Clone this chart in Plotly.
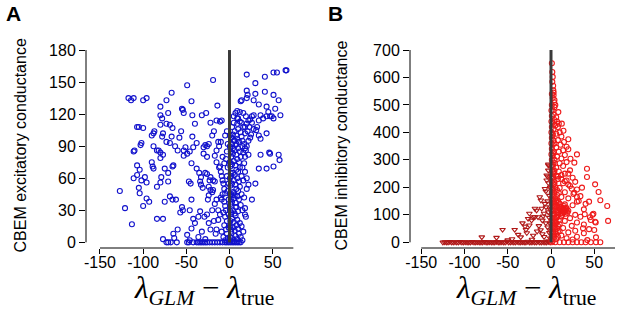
import plotly.graph_objects as go

W, H = 617, 311

# ---------------- data ----------------
X_TICKS = [-150, -100, -50, 0, 50]
X_TICKTEXT = ["-150", "-100", "-50", "0", "50"]
A_Y_TICKS = [0, 30, 60, 90, 120, 150, 180]
B_Y_TICKS = [0, 100, 200, 300, 400, 500, 600, 700]

# Panel A: excitatory conductance, points with negative difference
A_LEFT = [(-127,48),(-121,32),(-117,135),(-114,133),(-111,135),(-100,133),(-96,135),(-107,108),(-105,108),
 (-100,107),(-102,93),(-103,91),(-111,85),(-110,86),(-107,72),(-104,68),(-111,60),(-107,63),(-105,51),
 (-104,46),(-102,58),(-98,61),(-113,17),(-96,56),(-96,41),(-100,34),(-93,38),(-90,100),(-88,102),
 (-87,104),(-88,90),(-84,86),(-82,86),(-80,84),(-90,75),(-89,71),(-88,69),(-84,52),(-80,56),(-79,61),
 (-84,22),(-77,22),(-80,127),(-80,119),(-78,116),(-80,110),(-78,99),(-77,102),(-80,79),(-77,82),
 (-73,133),(-67,140),(-71,121),(-73,111),(-69,110),(-66,107),(-73,94),(-69,93),(-67,99),(-75,69),
 (-71,65),(-66,71),(-65,72),(-71,57),(-69,43),(-66,40),(-75,38),(-77,3),(-73,0),(-71,0),(-68,0),
 (-65,8),(-64,4),(-61,0),(-55,33),(-54,30),(-55,125),(-54,124),(-53,121),(-53,86),(-51,89),(-53,81),
 (-49,147),(-49,7),(-46,2),(-49,0),(-47,0),(-47,57),(-45,55),(-44,132),(-43,119),(-43,99),(-42,89),
 (-46,85),(-49,83),(-44,74),(-44,40),(-46,30),(-42,22),(-44,13),(-42,0),(-38,0),(-34,0),(-40,111),
 (-38,93),(-38,69),(-35,65),(-33,61),(-34,57),(-33,54),(-31,51),(-36,24),(-34,29),(-32,119),(-27,121),
 (-30,83),(-28,91),(-26,90),(-26,80),(-24,92),(-30,89),(-28,65),(-26,64),(-22,61),(-19,58),(-17,57),
 (-23,58),(-24,52),(-22,49),(-20,47),(-29,24),(-26,26),(-24,18),(-22,12),(-30,0),(-26,0),(-23,0),
 (-20,0),(-17,0),(-14,0),(-11,0),(-8,0),(-19,152),(-19,49),(-17,81),(-15,75),(-15,114),(-11,113),
 (-9,114),(-15,86),(-13,94),(-12,90),(-10,94),(-14,128),(-11,71),(-13,30),(-11,26),(-13,21),(-15,12),
 (-9,10),(-7,5),(-9,40),(-12,70),(-10,66),(-9,62),(-8,58),(-7,55),(-6,50),(-5,46),(-8,45),(-10,42),
 (-6,38),(-5,34),(-4,30),(-7,28),(-5,24),(-3,20),(-6,16),(-4,12),(-3,8),(-2,4),(-5,2),(-3,62),(-2,70),
 (-4,78),(-3,85),(-2,92),(-5,100),(-3,104),(-1,55),(-2,48),(-1,40),(-1,26),(-1,14),(-6,74),(-8,80),
 (-20,100),(-18,104),(-22,112),(-17,36),(-15,40),(-20,30),(-18,20),(-16,8),(-25,40),(-24,44),(-36,5),
 (-32,10),(-28,3),(-40,18),(-57,28),(-60,12),(-62,40),(-58,98),(-56,104),(-63,90),(-60,86),(-5,0),
 (-3,0),(-1,0),(-36,0),(-32,0),(-28,0)]

# Panel A: points with positive difference (sparse part)
A_RIGHT = [(66,161),(65,161),(51,159),(55,159),(41,155),(20,157),(30,149),(57,133),(51,138),(41,141),
 (30,139),(20,142),(21,138),(20,135),(13,132),(14,133),(28,133),(34,129),(43,127),(45,122),(53,125),
 (59,119),(49,118),(51,116),(47,118),(43,118),(39,116),(36,119),(34,114),(28,119),(26,118),(22,114),
 (20,111),(18,108),(32,108),(31,105),(34,100),(36,97),(43,102),(12,122),(9,123),(7,121),(9,116),
 (5,118),(36,82),(47,83),(46,84),(57,82),(58,77),(51,71),(43,69),(34,69),(30,55),(22,54),(20,60),
 (22,82),(18,80),(26,40),(18,32),(19,24),(5,46),(7,33)]

# Panel A: dense band just right of zero
A_DENSE = [(1,2),(3,4),(5,1),(7,6),(9,3),(11,8),(2,10),(4,14),(6,11),(8,16),(10,13),(12,18),(1,20),
 (3,22),(5,19),(7,25),(9,21),(2,28),(4,30),(6,27),(8,33),(10,29),(13,35),(1,36),(3,38),(5,41),(7,37),
 (9,43),(11,40),(2,45),(4,47),(6,44),(8,50),(10,48),(12,52),(1,53),(3,55),(5,58),(7,54),(9,60),(11,57),
 (14,62),(2,62),(4,65),(6,63),(8,68),(10,66),(12,70),(1,71),(3,73),(5,76),(7,72),(9,78),(11,75),
 (13,80),(2,80),(4,83),(6,86),(8,82),(10,88),(12,85),(15,90),(1,89),(3,92),(5,95),(7,91),(9,97),
 (11,94),(14,99),(2,98),(4,101),(6,104),(8,100),(10,106),(13,103),(16,108),(3,108),(5,112),(9,111),
 (12,113),(15,95),(17,92),(18,88),(16,84),(19,86),(20,90),(22,95),(24,98),(17,74),(15,70),(18,66),
 (16,58),(20,50),(14,45),(17,42),(15,30),(18,26),(14,15),(16,10),(13,5),(15,2),(0.5,5),(0.5,15),
 (0.5,30),(0.5,45),(0.5,60),(0.5,75),(0.5,90),(0.5,100),(1.5,12),(1.5,40),(1.5,65),(1.5,85),(6,95),
 (8,92),(4,88),(10,116),(14,112),(18,102),(21,104),(23,108),(25,101),(26,112),(28,106),(19,118),
 (16,121),(24,115),(1,0),(3,0),(5,0),(7,0),(9,0),(11,0),(13,0)]

# Panel B: inhibitory conductance, circles
B_CIRCLES = [(1,652),(1.5,620),(2,602),(1.5,584),(2.5,570),(2.7,553),(3,545),(3,535),(2,525),(4,518),
 (3.7,510),(5,500),(4,492),(2,480),(8.5,474),(3,465),(6,455),(4,445),(7,440),(9,432),(12.5,432),(5,425),
 (8,420),(3,412),(14.4,406),(10,400),(6,395),(2,390),(12,385),(20,375),(8,372),(15,365),(4,360),
 (11,355),(18,348),(6,345),(20,339),(14,335),(9,330),(2,325),(30,320),(16,318),(7,312),(12,305),
 (22.5,304),(4,300),(27,290),(18,292),(10,288),(2,282),(14,278),(6,272),(41.6,268),(22,262),(9,258),
 (3,255),(16,250),(20,250),(12,245),(6,242),(41.6,238),(25,235),(1,232),(8,230),(18,225),(28,220),
 (14,215),(4,212),(51,211),(22,205),(35.8,199),(10,198),(30,192),(2,190),(55,183),(16,182),(26,176),
 (7,172),(34,168),(12,165),(20,160),(57,153),(3,150),(30,148),(44,148),(9,145),(40,140),(16,138),
 (25,135),(65,132),(5,130),(12,128),(18,125),(38,120),(10,120),(15,118),(14,112),(20,115),(8,110),
 (49,104),(48,100),(3,105),(28,100),(39,102),(45,91),(12,95),(34,93),(6,90),(22,88),(46,81),(66,78),
 (51,75),(16,78),(30,72),(51.7,72),(2,70),(10,66),(38,65),(24,60),(5,55),(14,52),(37,51),(44,48),
 (50,45),(28,42),(8,40),(20,36),(38,33),(3,30),(12,25),(30,20),(52,18),(18,15),(6,12),(25,10),(42,8),
 (2,5),(57,0),(52,0),(46,0),(40,0),(35,0),(30,0),(25,0),(20,0),(15,0),(10,0),(5,0),(1,0),
 (8,240),(12,230),(16,222),(20,210),(24,195),(27,180),(30,165),(32,150),
 (11,105),(13,108),(15,110),(17,112),(19,108),(12,115),(14,122),(16,126),(18,120),(13,100),(17,104),
 (9,125),(11,130),(15,132),
 (0.5,10),(0.5,40),(0.5,80),(0.5,120),(0.5,160),(0.5,200),(0.5,240),(0.5,280),(0.5,320),(0.5,360),
 (0.5,400),(0.5,440),(0.5,480),(1,20),(1,60),(1,100),(1,140),(1,180),(1,220),(1,260),(1,300),(1,340),
 (1,380),(1,420),(1,460),(1,500),(1,540),(2,35),(2,75),(2,115),(2,155),(2,195),(2,235),(2,275),(2,315),
 (2,355),(2,395),(2,435),(3,50),(3,90),(3,130),(3,170),(3,210),(3,250),(3,290),(3,330),(3,370),(4,20),
 (4,60),(4,100),(4,140),(4,180),(4,220),(4,260),(5,40),(5,80),(5,120),(5,160),(5,200),(6,30),(6,70),
 (6,110),(6,150),(7,50),(7,90),(7,130),(7,190),(8,20),(8,60),(8,100),(8,150),(9,80),(9,180),(10,40),
 (10,140)]

# Panel B: triangles (row along zero, and scattered ones)
B_TRI_ROW = [(-125,0),(-123,1),(-121,0),(-119,0),(-117,2),(-115,0),(-113,0),(-111,1),(-109,0),(-107,0),
 (-105,2),(-103,0),(-101,0),(-99,1),(-97,0),(-95,0),(-93,0),(-91,2),(-89,0),(-87,0),(-85,1),(-83,0),
 (-81,0),(-79,0),(-77,2),(-75,0),(-73,0),(-71,1),(-69,0),(-67,0),(-65,0),(-63,2),(-61,0),(-59,0),
 (-57,1),(-55,0),(-53,0),(-51,3),(-49,0),(-47,0),(-45,1),(-43,0),(-41,0),(-39,2),(-37,0),(-35,0),
 (-33,1),(-31,0),(-29,0),(-27,3),(-25,0),(-23,0),(-21,1),(-19,0),(-17,0),(-15,2),(-13,0),(-11,0),
 (-9,1),(-7,0),(-5,0),(-3,2),(-1,0)]
B_TRI_SCATTER = [(-80,19),(-63,17),(-56,46),(-42,46),(-35,19),(-33,70),(-29,46),(-28,34),(-25,62),
 (-22.5,80),(-20.6,25),(-18.7,92),(-16.7,116),(-15,92),(-11.7,153),(-10.8,123),(-9,95),(-7,195),
 (-5.8,128),(-5,226),(-3.8,240),(-3.1,262),(-3.1,284),(-3.1,110),(-1.2,69),(-1.2,44),(-3,280),(-5,244),
 (-3,216),(-6,186),(-13,165),(-7,141),(-18.6,123),(-20.6,92),(-25,105),(-26.5,86),(-30,58),(-38,28),
 (-45,12),(-50,8),(-14,60),(-12,45),(-10,30),(-8,20),(-6,70),(-4,55),(-2,35),(-2,90),(-4,150),
 (-2,170),(-1,200),(-16,40),(-22,10),(-10,80),(-8,105),(-1,120),(-1,15),(-3,5)]

# ---------------- figure ----------------
def xs(pts):
    return [p[0] for p in pts]

def ys(pts):
    return [p[1] for p in pts]

BLUE = "#1212cc"
RED = "#ee1a1a"
DARKRED = "#b01818"

fig = go.Figure()
a_pts = A_LEFT + A_RIGHT + A_DENSE
fig.add_trace(go.Scatter(x=xs(a_pts), y=ys(a_pts), mode="markers", xaxis="x", yaxis="y",
                         marker=dict(symbol="circle-open", size=5, color=BLUE, line=dict(width=1.1, color=BLUE)),
                         showlegend=False, hoverinfo="skip"))
b_tri = B_TRI_ROW + B_TRI_SCATTER
fig.add_trace(go.Scatter(x=xs(b_tri), y=ys(b_tri), mode="markers", xaxis="x2", yaxis="y2",
                         marker=dict(symbol="triangle-down-open", size=5, color=DARKRED,
                                     line=dict(width=1.1, color=DARKRED)),
                         showlegend=False, hoverinfo="skip"))
fig.add_trace(go.Scatter(x=xs(B_CIRCLES), y=ys(B_CIRCLES), mode="markers", xaxis="x2", yaxis="y2",
                         marker=dict(symbol="circle-open", size=5, color=RED, line=dict(width=1.1, color=RED)),
                         showlegend=False, hoverinfo="skip"))

# pixel geometry
top_px, bot_px = 40, 248
ydom = [1 - bot_px / H, 1 - top_px / H]

tickfont = dict(family="Liberation Sans, Arial, sans-serif", size=16, color="black")
common_x = dict(showgrid=False, zeroline=False, showline=False, ticks="outside", ticklen=5,
                tickwidth=1, tickcolor="black", tickvals=X_TICKS, ticktext=X_TICKTEXT,
                tickfont=tickfont, fixedrange=True, automargin=False, ticklabelstandoff=-5)
common_y = dict(showgrid=False, zeroline=False, showline=False, ticks="outside", ticklen=6,
                tickwidth=1, tickcolor="black", tickfont=tickfont, fixedrange=True, automargin=False)

fig.update_layout(
    template="none",
    width=W, height=H, autosize=False,
    margin=dict(l=0, r=0, t=0, b=0, pad=0),
    paper_bgcolor="white", plot_bgcolor="white",
    xaxis=dict(domain=[86 / W, 300 / W], range=[-166.2, 81.7], anchor="y", **common_x),
    yaxis=dict(domain=ydom, range=[-5.3, 189.4], anchor="x", tickvals=A_Y_TICKS,
               ticktext=[str(v) for v in A_Y_TICKS], **common_y),
    xaxis2=dict(domain=[410 / W, 1.0], range=[-163, 76.3], anchor="y2", **common_x),
    yaxis2=dict(domain=ydom, range=[-20.7, 736.4], anchor="x2", tickvals=B_Y_TICKS,
                ticktext=[str(v) for v in B_Y_TICKS], **common_y),
)

shapes = []
for xa, ya, ymax in (("x", "y", 180), ("x2", "y2", 700)):
    # axis lines spanning only the tick range (base-R style)
    shapes.append(dict(type="line", xref=xa, yref=ya + " domain", x0=-150, x1=74, y0=0, y1=0,
                       line=dict(color="black", width=1)))
    shapes.append(dict(type="line", xref=xa + " domain", yref=ya, x0=0, x1=0, y0=0, y1=ymax,
                       line=dict(color="black", width=1)))
    # vertical reference line at zero
    shapes.append(dict(type="line", xref=xa, yref=ya, x0=0, x1=0, y0=0, y1=ymax,
                       line=dict(color="#3a3a3a", width=3), layer="above"))
fig.update_layout(shapes=shapes)

lab = dict(family="Liberation Sans, Arial, sans-serif", size=16, color="black")
xtitle = "<i>λ</i><sub><i>GLM</i></sub> − <i>λ</i><sub>true</sub>"
tfont = dict(family="Liberation Serif, DejaVu Serif, serif", size=31, color="black")
annotations = [
    dict(text="<b>A</b>", x=4 / W, y=1 - 14 / H, xref="paper", yref="paper", xanchor="left",
         yanchor="middle", showarrow=False, font=dict(family="Liberation Sans, Arial", size=21, color="black")),
    dict(text="<b>B</b>", x=326 / W, y=1 - 13 / H, xref="paper", yref="paper", xanchor="left",
         yanchor="middle", showarrow=False, font=dict(family="Liberation Sans, Arial", size=21, color="black")),
    dict(text="CBEM excitatory conductance", x=19.5 / W, y=1 - 146 / H, xref="paper", yref="paper",
         textangle=-90, showarrow=False, font=lab, xanchor="center", yanchor="middle"),
    dict(text="CBEM inhibitory conductance", x=340.5 / W, y=1 - 146 / H, xref="paper", yref="paper",
         textangle=-90, showarrow=False, font=lab, xanchor="center", yanchor="middle"),
    dict(text=xtitle, x=203.5 / W, y=1 - 290 / H, xref="paper", yref="paper", showarrow=False,
         font=tfont, xanchor="center", yanchor="middle"),
    dict(text=xtitle, x=526 / W, y=1 - 290 / H, xref="paper", yref="paper", showarrow=False,
         font=tfont, xanchor="center", yanchor="middle"),
]
fig.update_layout(annotations=annotations)

fig.write_html("out.html", config=dict(displayModeBar=False),
               post_script="document.body.style.margin='0';document.body.style.overflow='hidden';")
